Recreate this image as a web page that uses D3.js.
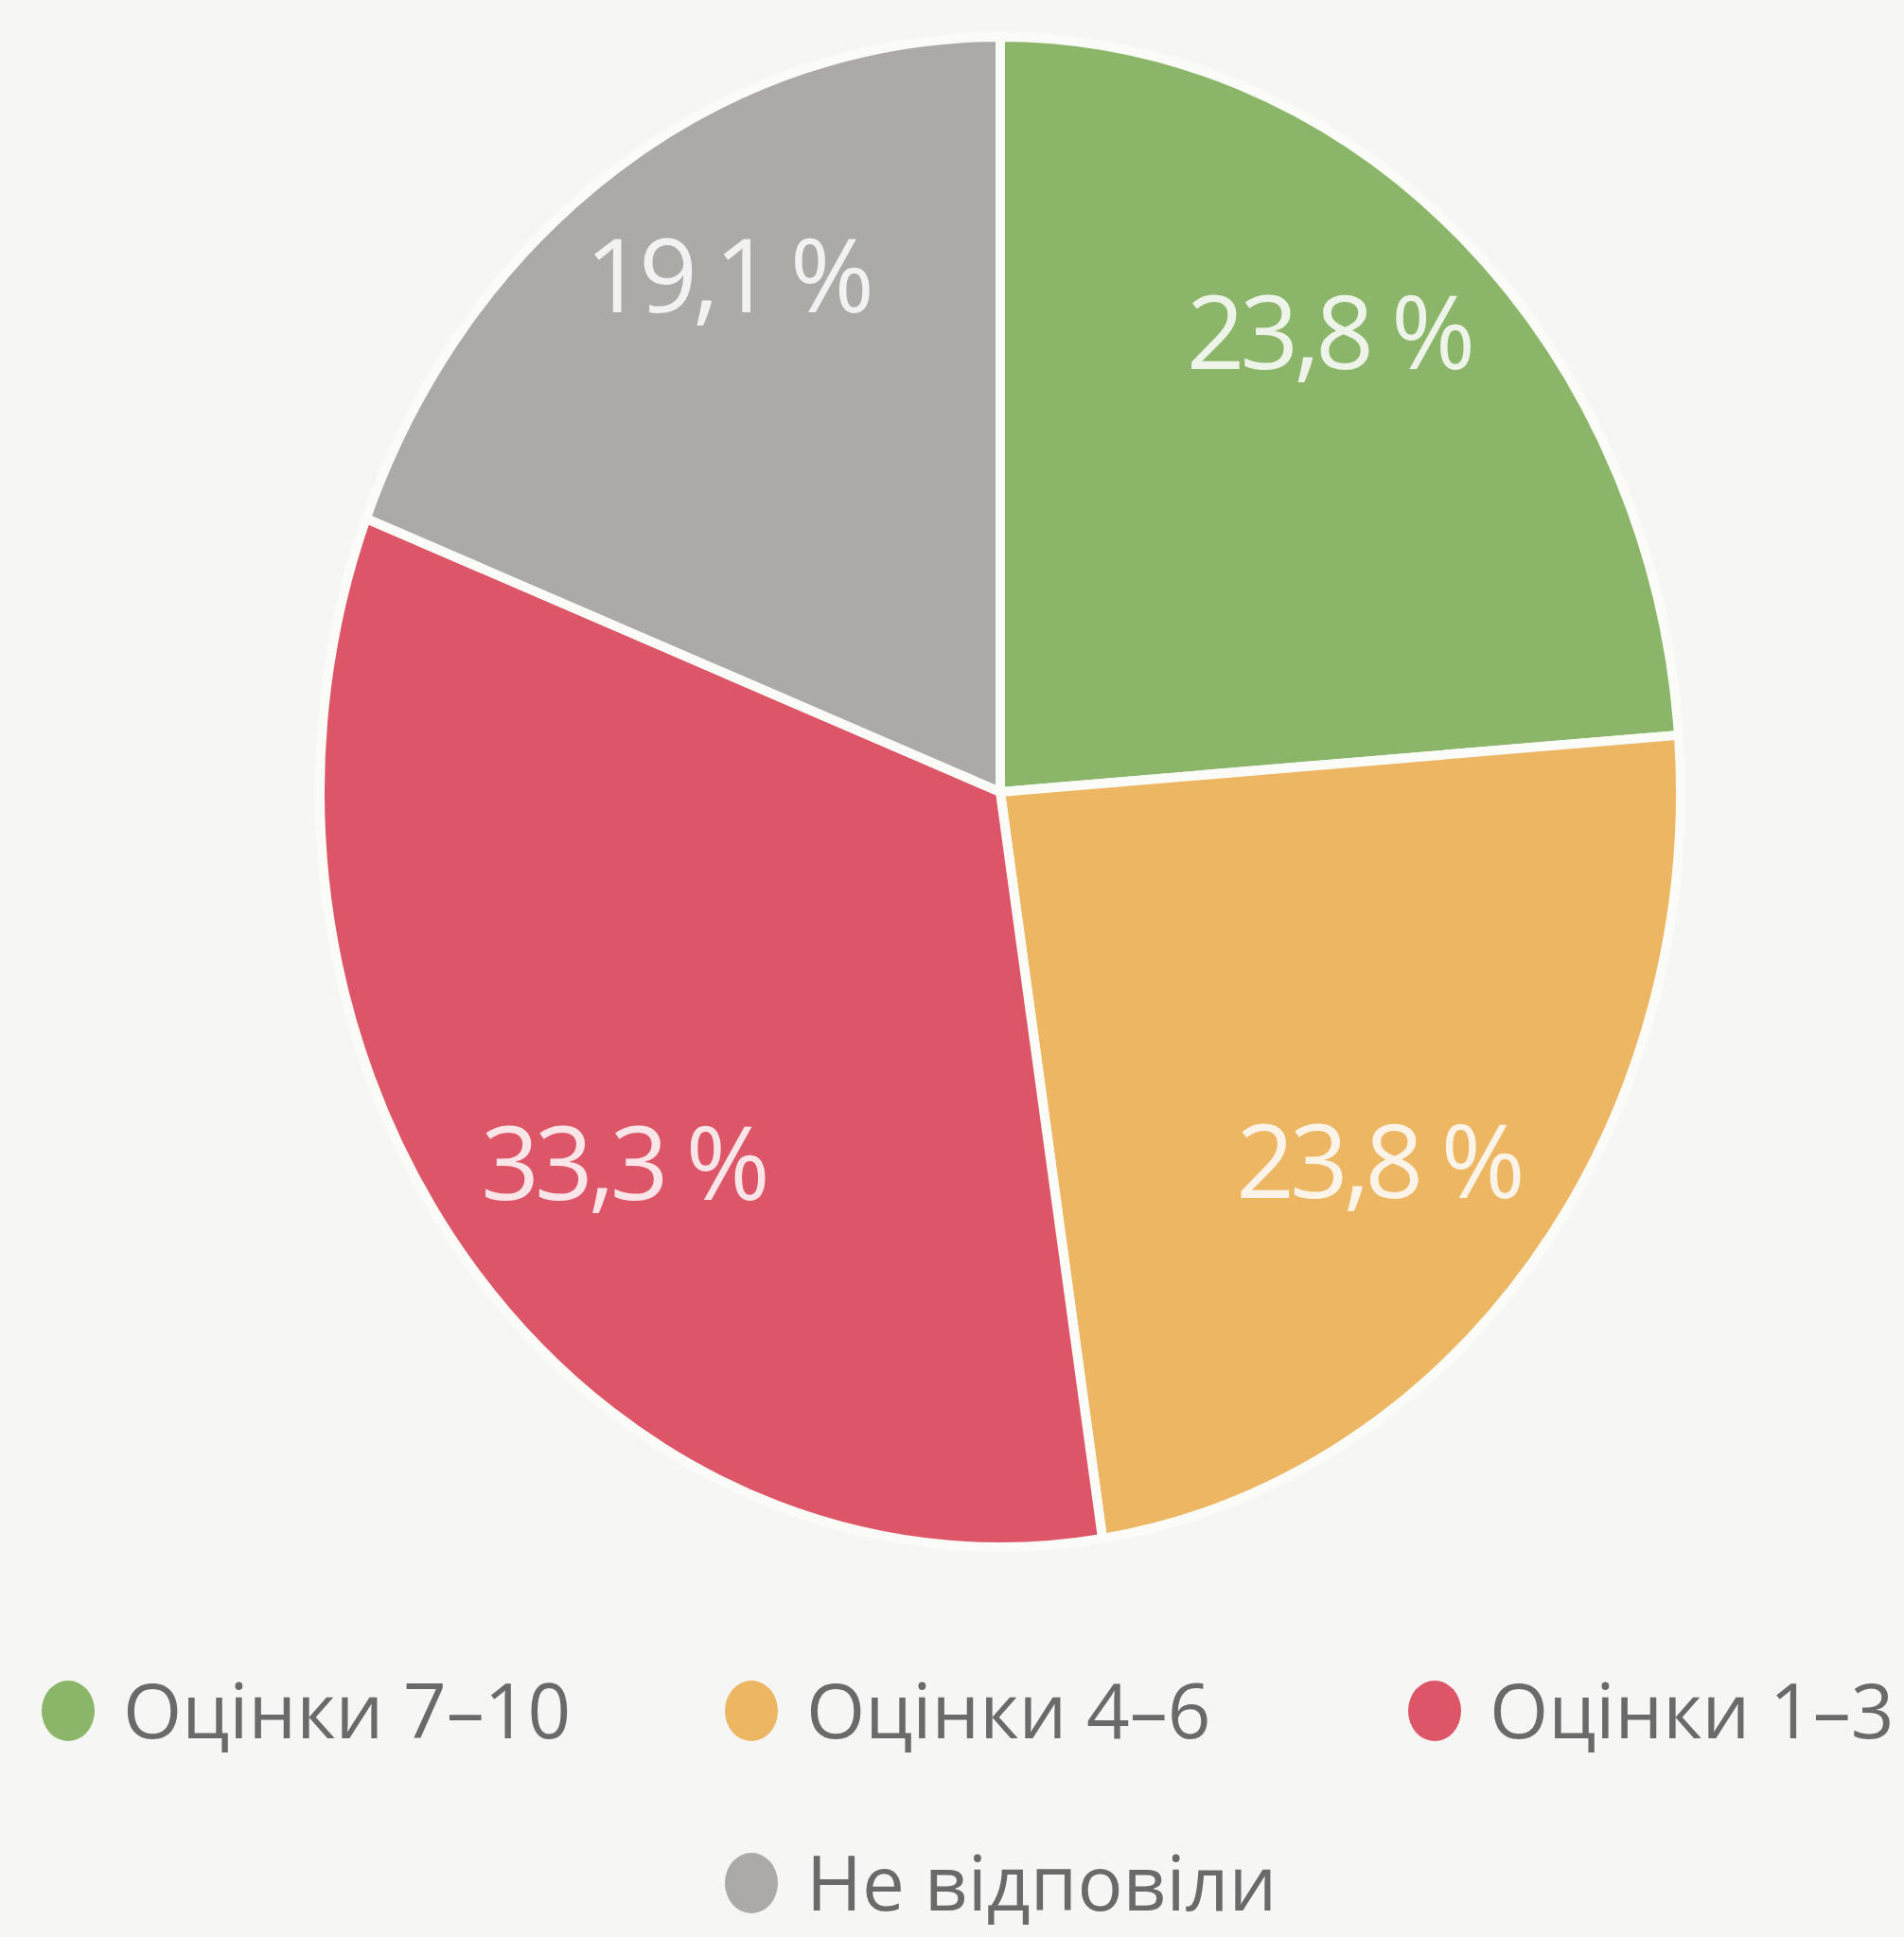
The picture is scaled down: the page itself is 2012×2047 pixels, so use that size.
<!DOCTYPE html>
<html>
<head>
<meta charset="utf-8">
<script src="https://cdn.jsdelivr.net/npm/d3@7"></script>
<style>
  body { margin: 0; background: #f6f6f4; }
  svg { display: block; }
</style>
</head>
<body>
<div id="chart"></div>
<script>
var w = 2012;
var h = 2047;

// data
var categories = ["Оцінки 7–10", "Оцінки 4–6", "Оцінки 1–3", "Не відповіли"];
var values = [23.8, 23.8, 33.3, 19.1];
var labels = ["23,8 %", "23,8 %", "33,3 %", "19,1 %"];
var colors = ["#8bb66a", "#ecb663", "#dd5668", "#abaaa7"];

// layout
var cx = 1057, cy = 837;
var rx = 719, ry = 798;   // photo is a bit stretched vertically
var labelFx = 0.71, labelFy = 0.81;

var svg = d3.select("#chart")
    .append("svg")
    .attr("width", w)
    .attr("height", h);

var pie = d3.pie().sort(null).value(function (d) { return d; });
var arcs = pie(values);

var arc = d3.arc().innerRadius(0).outerRadius(rx);

var pieG = svg.append("g")
    .attr("transform", "translate(" + cx + "," + cy + ") scale(1," + (ry / rx) + ")");

pieG.selectAll("path")
    .data(arcs)
    .enter()
    .append("path")
    .attr("d", arc)
    .attr("fill", function (d, i) { return colors[i]; })
    .attr("stroke", "#fbfbf8")
    .attr("stroke-width", 10)
    .attr("stroke-linejoin", "round")
    .attr("vector-effect", "non-scaling-stroke");

//value labels
svg.selectAll(".val")
    .data(arcs)
    .enter()
    .append("text")
    .attr("class", "val")
    .attr("x", function (d) {
        var a = (d.startAngle + d.endAngle) / 2;
        return cx + Math.sin(a) * rx * labelFx;
    })
    .attr("y", function (d) {
        var a = (d.startAngle + d.endAngle) / 2;
        return cy - Math.cos(a) * ry * labelFy - 12;
    })
    .attr("dy", "0.36em")
    .attr("text-anchor", "middle")
    .style("font-family", "'Open Sans', 'Liberation Sans', sans-serif")
    .style("font-size", "108px")
    .style("letter-spacing", "-5px")
    .style("fill", "#ffffff")
    .style("fill-opacity", 0.85)
    .text(function (d, i) { return labels[i]; });

//legend: three items on the first row, the last one under the middle column
var col = d3.scalePoint().domain([0, 1, 2]).range([72, 1516]);
var row = d3.scalePoint().domain([0, 1]).range([1808, 1990]);

var legend = svg.selectAll(".legend")
    .data(categories)
    .enter()
    .append("g")
    .attr("class", "legend")
    .attr("transform", function (d, i) {
        var c = i < 3 ? i : 1;
        var r = i < 3 ? 0 : 1;
        return "translate(" + col(c) + "," + row(r) + ")";
    });

legend.append("ellipse")
    .attr("rx", 28)
    .attr("ry", 32)
    .attr("fill", function (d, i) { return colors[i]; });

legend.append("text")
    .attr("x", 58)
    .attr("dy", "0.36em")
    .style("font-family", "'Open Sans', 'Liberation Sans', sans-serif")
    .style("font-size", "80px")
    .style("fill", "#6b6a6b")
    .text(function (d) { return d; });
</script>
</body>
</html>
